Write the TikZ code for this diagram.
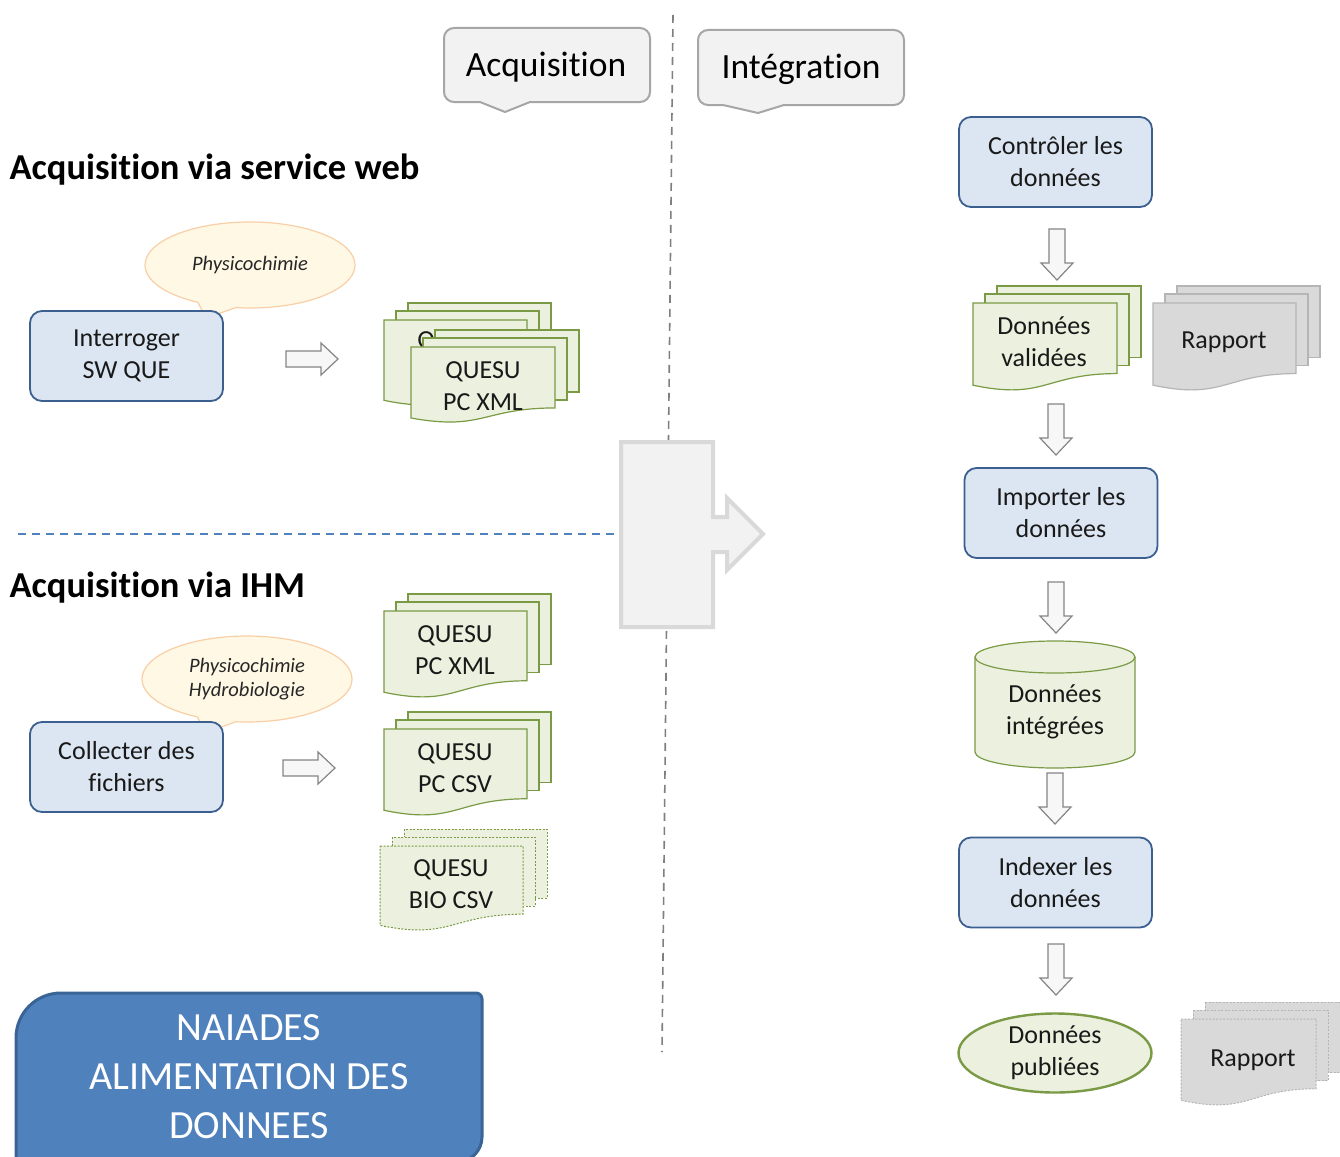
\documentclass[tikz,border=0pt]{standalone}
\usepackage{fontspec}
\setmainfont{Carlito}[Ligatures=NoCommon]
\usetikzlibrary{shapes.geometric,shapes.callouts}
\definecolor{boxf}{HTML}{DCE6F2}
\definecolor{boxb}{HTML}{3B5F8E}
\definecolor{grf}{HTML}{EBF1DE}
\definecolor{grb}{HTML}{7A9A45}
\definecolor{bubf}{HTML}{FFF8E5}
\definecolor{bubb}{HTML}{F8CFA6}
\definecolor{docgf}{HTML}{D9D9D9}
\definecolor{docgb}{HTML}{B5B5B5}
\definecolor{callf}{HTML}{F2F2F2}
\definecolor{callb}{HTML}{A6A6A6}
\definecolor{naif}{HTML}{4F81BD}
\definecolor{naib}{HTML}{3A6496}
\definecolor{vline}{HTML}{7F7F7F}
\definecolor{hline}{HTML}{4F81BD}
\definecolor{bigb}{HTML}{D9D9D9}
\definecolor{arrb}{HTML}{858585}
\tikzset{
  txt/.style={align=center,font=\fontsize{26}{32}\selectfont,text=black!90},
  box/.style={txt,draw=boxb,fill=boxf,rounded corners=12,line width=1.8,minimum width=193,minimum height=90,inner sep=0},
  grdoc/.style={draw=grb,fill=grf,line width=1.2},
  grdocd/.style={draw=grb,fill=grf,line width=1.0,dash pattern=on 2pt off 1.5pt},
  gydoc/.style={draw=docgb,fill=docgf,line width=1.2},
  gydocd/.style={draw=docgb,fill=docgf,line width=1.0,dash pattern=on 2pt off 1.5pt},
  bubble/.style={ellipse callout,draw=bubb,fill=bubf,line width=1.2,minimum width=210,minimum height=86,callout pointer arc=22,align=center,font=\fontsize{20.5}{24}\selectfont\itshape,text=black!85},
  callframe/.style={draw=callb,fill=callf,line width=2},
  blockarrow/.style={draw=arrb,fill=callf!60,line width=1.2},
  title/.style={anchor=west,font=\fontsize{36.5}{40}\selectfont\bfseries},
  darrow/.pic={\path[blockarrow] (-8,0) -- (8,0) -- (8,34) -- (16,34) -- (0,51) -- (-16,34) -- (-8,34) -- cycle;},
  rarrow/.pic={\path[blockarrow] (0,-8) -- (35,-8) -- (35,-16) -- (52,0) -- (35,16) -- (35,8) -- (0,8) -- cycle;}
}
% document page with wavy bottom: x1 y1 width h style
\newcommand\docpg[5]{\path[#5] (#1,#2) -- ({#1+#3},#2) -- ({#1+#3},{#2+0.802*#4}) .. controls ({#1+0.5*#3},{#2+0.802*#4}) and ({#1+0.5*#3},{#2+1.107*#4}) .. (#1,{#2+0.934*#4}) -- cycle;}
% multi document: x1 y1 width h style
\newcommand\mdoc[5]{%
  \path[#5] ({#1+24},{#2-17}) rectangle ({#1+24+#3},{#2+0.802*#4-16});
  \path[#5] ({#1+12},{#2-9}) rectangle ({#1+12+#3},{#2+0.802*#4-8});
  \docpg{#1}{#2}{#3}{#4}{#5}}
% callout frame: x1 y1 x2 y2 pl pt pr ty
\newcommand\callfr[8]{\path[callframe] (#5,#4) -- (#6,#8) -- (#7,#4) -- ({#3-10},#4) .. controls ({#3-4.5},#4) and (#3,{#4-4.5}) .. (#3,{#4-10}) -- (#3,{#2+10}) .. controls (#3,{#2+4.5}) and ({#3-4.5},#2) .. ({#3-10},#2) -- ({#1+10},#2) .. controls ({#1+4.5},#2) and (#1,{#2+4.5}) .. (#1,{#2+10}) -- (#1,{#4-10}) .. controls (#1,{#4-4.5}) and ({#1+4.5},#4) .. ({#1+10},#4) -- cycle;}
\begin{document}
\begin{tikzpicture}[x=1pt,y=-1pt]
\useasboundingbox (0,0) rectangle (1340,1156);
\fill[white] (0,0) rectangle (1340,1156);
% separators
\draw[vline,line width=1.6,dash pattern=on 8pt off 6pt] (673,15) -- (662,1052);
\draw[hline,line width=1.6,dash pattern=on 8pt off 6pt] (18,534) -- (621,534);
% big arrow
\path[draw=bigb,fill=callf,line width=4,line join=miter] (621,442) -- (713,442) -- (713,517) -- (727,517) -- (727,498) -- (763,534) -- (727,570) -- (727,552) -- (713,552) -- (713,627) -- (621,627) -- cycle;
% callouts
\callfr{444}{28}{650}{102}{480}{505}{530}{112}
\node[font=\fontsize{35.5}{40}\selectfont] (acq) at (546,67) {Acquisition};
\callfr{698}{30}{904}{105}{723}{758}{784}{113}
\node[font=\fontsize{35.5}{40}\selectfont] (integ) at (801,69) {Intégration};
% titles
\node[title] (t1) at (6,170) {Acquisition via service web};
\node[title] (t2) at (6,588) {Acquisition via IHM};
% service web part
\node[bubble,callout absolute pointer={(206,318)}] (bub1) at (250,265) {Physicochimie};
\node[box] (interr) at (126.5,356) {Interroger\\SW QUE};
\pic (ra1) at (286,359) {rarrow};
\mdoc{384}{320}{143}{86}{grdoc}
\node[txt] (docback) at (455,356) {QUESU\\PC XML};
\mdoc{411}{347}{144}{76}{grdoc}
\node[txt] (docws) at (483,386) {QUESU\\PC XML};
% IHM part
\node[bubble,callout absolute pointer={(206,733)}] (bub2) at (247,679) {Physicochimie\\Hydrobiologie};
\node[box] (collect) at (126.5,767) {Collecter des\\fichiers};
\pic (ra2) at (283,768) {rarrow};
\mdoc{384}{611}{143}{87}{grdoc}
\node[txt] (docxml) at (455,650) {QUESU\\PC XML};
\mdoc{384}{729}{143}{87}{grdoc}
\node[txt] (doccsv) at (455,768) {QUESU\\PC CSV};
\mdoc{380}{846}{143}{85}{grdocd}
\node[txt] (docbio) at (451,884.5) {QUESU\\BIO CSV};
% NAIADES
\path[fill=naif,draw=naib,line width=3] (16,1200) -- (16,1038) .. controls (16,1013) and (36,993) .. (61,993) -- (476,993) .. controls (479.3,993) and (482,995.7) .. (482,999) -- (482,1137) .. controls (482,1150.8) and (470.8,1162) .. (457,1162) -- (16,1162) -- cycle;
\node[align=center,text=white,font=\fontsize{40}{49}\selectfont] (naiades) at (249,1077) {NAIADES\\ALIMENTATION DES\\DONNEES};
% integration column
\node[box] (ctrl) at (1055.5,162) {Contrôler les\\données};
\pic (da1) at (1057,229) {darrow};
\mdoc{973}{303}{144}{88}{grdoc}
\node[txt] (valid) at (1044,342) {Données\\validées};
\mdoc{1153}{303}{143}{88}{gydoc}
\node[txt] (rap1) at (1224,342) {Rapport};
\pic (da2) at (1056,404) {darrow};
\node[box] (import) at (1061,513) {Importer les\\données};
\pic (da3) at (1056,582) {darrow};
% cylinder
\path[grdoc] (975,657) -- (975,752) arc[start angle=180,end angle=0,x radius=80,y radius=16] -- (1135,657) arc[start angle=360,end angle=180,x radius=80,y radius=16] -- cycle;
\draw[grb,line width=1.2] (975,657) arc[start angle=180,end angle=0,x radius=80,y radius=16];
\node[txt] (integr) at (1055,712) {Données\\intégrées};
\pic (da4) at (1055,773) {darrow};
\node[box] (index) at (1055.5,882.5) {Indexer les\\données};
\pic (da5) at (1056,944) {darrow};
\node[txt,ellipse,draw=grb,fill=grf,line width=2.4,minimum width=193,minimum height=79,inner sep=0] (publ) at (1055,1053) {Données\\publiées};
\mdoc{1181}{1019}{135}{87}{gydocd}
\node[txt] (rap2) at (1253,1060) {Rapport};
\end{tikzpicture}
\end{document}
